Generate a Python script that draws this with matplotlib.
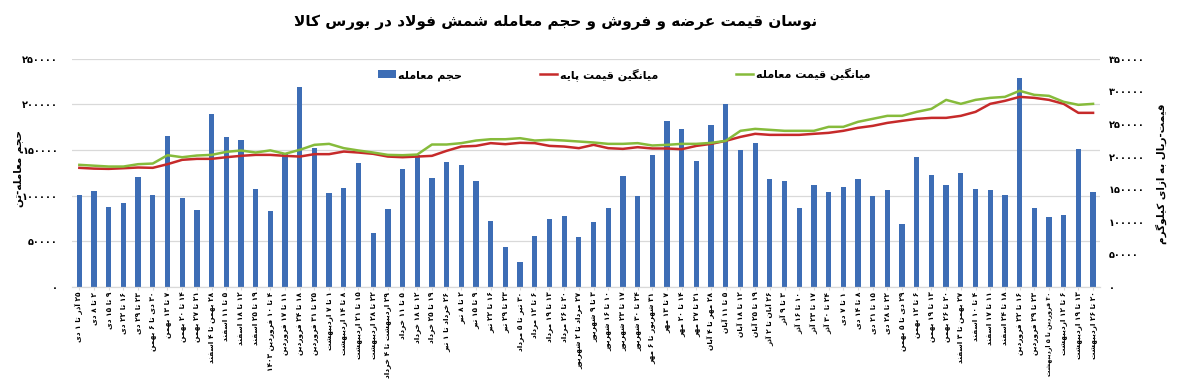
import re
import matplotlib
matplotlib.use('Agg')
import matplotlib.pyplot as plt
import numpy as np

# data
labels = ['۲۵ آذر تا ۱ دی', '۲ تا ۸ دی', '۹ تا ۱۵ دی', '۱۶ تا ۲۲ دی', '۲۳ تا ۲۹ دی',
          '۳۰ دی تا ۶ بهمن', '۷ تا ۱۳ بهمن', '۱۴ تا ۲۰ بهمن', '۲۱ تا ۲۷ بهمن',
          '۲۸ بهمن تا ۴ اسفند', '۵ تا ۱۱ اسفند', '۱۲ تا ۱۸ اسفند', '۱۹ تا ۲۵ اسفند',
          '۴ تا ۱۰ فروردین ۱۴۰۳', '۱۱ تا ۱۷ فروردین', '۱۸ تا ۲۴ فروردین', '۲۵ تا ۳۱ فروردین',
          '۱ تا ۷ اردیبهشت', '۸ تا ۱۴ اردیبهشت', '۱۵ تا ۲۱ اردیبهشت', '۲۲ تا ۲۸ اردیبهشت',
          '۲۹ اردیبهشت تا ۴ خرداد', '۵ تا ۱۱ خرداد', '۱۲ تا ۱۸ خرداد', '۱۹ تا ۲۵ خرداد',
          '۲۶ خرداد تا ۱ تیر', '۲ تا ۸ تیر', '۹ تا ۱۵ تیر', '۱۶ تا ۲۲ تیر', '۲۳ تا ۲۹ تیر',
          '۳۰ تیر تا ۵ مرداد', '۶ تا ۱۲ مرداد', '۱۳ تا ۱۹ مرداد', '۲۰ تا ۲۶ مرداد',
          '۲۷ مرداد تا ۲ شهریور', '۳ تا ۹ شهریور', '۱۰ تا ۱۶ شهریور', '۱۷ تا ۲۳ شهریور',
          '۲۴ تا ۳۰ شهریور', '۳۱ شهریور تا ۶ مهر', '۷ تا ۱۳ مهر', '۱۴ تا ۲۰ مهر',
          '۲۱ تا ۲۷ مهر', '۲۸ مهر تا ۴ آبان', '۵ تا ۱۱ آبان', '۱۲ تا ۱۸ آبان', '۱۹ تا ۲۵ آبان',
          '۲۶ آبان تا ۲ آذر', '۳ تا ۹ آذر', '۱۰ تا ۱۶ آذر', '۱۷ تا ۲۳ آذر', '۲۴ تا ۳۰ آذر',
          '۱ تا ۷ دی', '۸ تا ۱۴ دی', '۱۵ تا ۲۱ دی', '۲۲ تا ۲۸ دی', '۲۹ دی تا ۵ بهمن',
          '۶ تا ۱۲ بهمن', '۱۳ تا ۱۹ بهمن', '۲۰ تا ۲۶ بهمن', '۲۷ بهمن تا ۳ اسفند',
          '۴ تا ۱۰ اسفند', '۱۱ تا ۱۷ اسفند', '۱۸ تا ۲۴ اسفند', '۱۶ تا ۲۲ فروردین',
          '۲۳ تا ۲۹ فروردین', '۳۰ فروردین تا ۵ اردیبهشت', '۶ تا ۱۲ اردیبهشت',
          '۱۳ تا ۱۹ اردیبهشت', '۲۰ تا ۲۶ اردیبهشت']

volume = [101000, 105000, 88000, 92000, 120000, 101000, 165000, 97600, 84400, 189000,
          164000, 161000, 107000, 83300, 145400, 218800, 152000, 103200, 108300, 135500,
          59100, 85900, 129600, 144600, 119700, 137000, 133300, 116400, 72000, 43700,
          27200, 56200, 74500, 77500, 54300, 71600, 86600, 121900, 99900, 144300,
          181700, 173600, 138000, 178000, 201000, 150000, 158000, 118000, 116000, 86000,
          112000, 104000, 110000, 118000, 100000, 106000, 69000, 142000, 123000, 112000,
          125000, 107000, 106000, 101000, 229000, 87000, 77000, 79000, 151000, 104000]

base_price = [182700, 181500, 181100, 182100, 183200, 182700, 188300, 195000, 196500, 196500,
              199000, 201100, 202600, 202600, 201100, 200000, 203700, 203700, 207700, 206200,
              204200, 200000, 199000, 200000, 201100, 208800, 215400, 216400, 220600, 219000,
              221100, 220600, 216400, 215400, 212900, 218000, 212900, 211800, 214400, 212400,
              212400, 211300, 216400, 219500, 224100, 230200, 234900, 233300, 233300, 233300,
              234900, 236400, 239500, 244100, 247100, 251700, 254800, 257900, 259400, 259400,
              262500, 268600, 280900, 285500, 291600, 290100, 287000, 280900, 267100, 267100]

deal_price = [187300, 186000, 184700, 184700, 188300, 189300, 202100, 199000, 201600, 202600,
              207200, 209300, 206200, 209500, 204200, 210300, 218000, 219500, 212900, 209300,
              206200, 202600, 202100, 203100, 218500, 218500, 220600, 224600, 226600, 226600,
              228200, 224600, 225700, 224600, 223100, 221600, 219500, 219500, 220600, 217000,
              218000, 219500, 219500, 221000, 224100, 239500, 242500, 241000, 239500, 239500,
              239500, 245600, 245600, 253300, 257900, 262500, 262500, 268600, 273200, 287000,
              280900, 287000, 290100, 291600, 300900, 294700, 293200, 284000, 279400, 280900]

title = 'نوسان قیمت عرضه و فروش و حجم معامله شمش فولاد در بورس کالا'
names = ['حجم معامله', 'میانگین قیمت پایه', 'میانگین قیمت معامله']
ylabel_left = 'حجم معامله-تن'
ylabel_right = 'قیمت-ریال به ازای کیلوگرم'

# --- simple persian shaping (matplotlib has no bidi / shaping) ---
# isolated, final, initial, medial
FORMS = {
    'ا': ('\uFE8D', '\uFE8E', None, None), 'آ': ('\uFE81', '\uFE82', None, None),
    'ب': ('\uFE8F', '\uFE90', '\uFE91', '\uFE92'), 'پ': ('\uFB56', '\uFB57', '\uFB58', '\uFB59'),
    'ت': ('\uFE95', '\uFE96', '\uFE97', '\uFE98'), 'ث': ('\uFE99', '\uFE9A', '\uFE9B', '\uFE9C'),
    'ج': ('\uFE9D', '\uFE9E', '\uFE9F', '\uFEA0'), 'چ': ('\uFB7A', '\uFB7B', '\uFB7C', '\uFB7D'),
    'ح': ('\uFEA1', '\uFEA2', '\uFEA3', '\uFEA4'), 'خ': ('\uFEA5', '\uFEA6', '\uFEA7', '\uFEA8'),
    'د': ('\uFEA9', '\uFEAA', None, None), 'ذ': ('\uFEAB', '\uFEAC', None, None),
    'ر': ('\uFEAD', '\uFEAE', None, None), 'ز': ('\uFEAF', '\uFEB0', None, None),
    'ژ': ('\uFB8A', '\uFB8B', None, None),
    'س': ('\uFEB1', '\uFEB2', '\uFEB3', '\uFEB4'), 'ش': ('\uFEB5', '\uFEB6', '\uFEB7', '\uFEB8'),
    'ص': ('\uFEB9', '\uFEBA', '\uFEBB', '\uFEBC'), 'ض': ('\uFEBD', '\uFEBE', '\uFEBF', '\uFEC0'),
    'ط': ('\uFEC1', '\uFEC2', '\uFEC3', '\uFEC4'), 'ظ': ('\uFEC5', '\uFEC6', '\uFEC7', '\uFEC8'),
    'ع': ('\uFEC9', '\uFECA', '\uFECB', '\uFECC'), 'غ': ('\uFECD', '\uFECE', '\uFECF', '\uFED0'),
    'ف': ('\uFED1', '\uFED2', '\uFED3', '\uFED4'), 'ق': ('\uFED5', '\uFED6', '\uFED7', '\uFED8'),
    'ک': ('\uFB8E', '\uFB8F', '\uFB90', '\uFB91'), 'گ': ('\uFB92', '\uFB93', '\uFB94', '\uFB95'),
    'ل': ('\uFEDD', '\uFEDE', '\uFEDF', '\uFEE0'), 'م': ('\uFEE1', '\uFEE2', '\uFEE3', '\uFEE4'),
    'ن': ('\uFEE5', '\uFEE6', '\uFEE7', '\uFEE8'), 'ه': ('\uFEE9', '\uFEEA', '\uFEEB', '\uFEEC'),
    'و': ('\uFEED', '\uFEEE', None, None),
    'ی': ('\uFBFC', '\uFBFD', '\uFBFE', '\uFBFF'), 'ئ': ('\uFE89', '\uFE8A', '\uFE8B', '\uFE8C'),
}
LAM_ALEF = {'ا': ('\uFEFB', '\uFEFC'), 'آ': ('\uFEF5', '\uFEF6')}


def shape(s):
    out = []
    i = 0
    while i < len(s):
        c = s[i]
        if c not in FORMS:
            out.append(c)
            i += 1
            continue
        prev = s[i - 1] if i > 0 else ''
        join_prev = prev in FORMS and FORMS[prev][2] is not None
        nxt = s[i + 1] if i + 1 < len(s) else ''
        if c == 'ل' and nxt in LAM_ALEF:
            out.append(LAM_ALEF[nxt][1 if join_prev else 0])
            i += 2
            continue
        join_next = FORMS[c][2] is not None and nxt in FORMS
        if join_prev and join_next:
            out.append(FORMS[c][3])
        elif join_prev:
            out.append(FORMS[c][1])
        elif join_next:
            out.append(FORMS[c][2])
        else:
            out.append(FORMS[c][0])
        i += 1
    return ''.join(out)


def fa(s):
    v = shape(s)[::-1]
    return re.sub(r'[0-9\u06F0-\u06F9]+', lambda m: m.group(0)[::-1], v)


def fa_num(v):
    return str(int(v)).translate(str.maketrans('0123456789', '۰۱۲۳۴۵۶۷۸۹'))


plt.rcParams['font.family'] = ['DejaVu Sans']

fig = plt.figure(figsize=(12, 3.82), dpi=100)
ax = fig.add_axes([0.06, 0.249, 0.857, 0.597])
ax2 = ax.twinx()

x = np.arange(len(labels))
b = ax.bar(x, volume, width=0.36, color='#3d6db5', zorder=2, label=fa(names[0]))
l1, = ax2.plot(x, base_price, color='#c62a2a', lw=1.8, label=fa(names[1]))
l2, = ax2.plot(x, deal_price, color='#86bb3b', lw=1.8, label=fa(names[2]))

ax.set_xlim(-0.5, len(labels) - 0.5)
ax.set_ylim(0, 250000)
ax2.set_ylim(0, 350000)
ax.set_yticks(np.arange(0, 250001, 50000))
ax2.set_yticks(np.arange(0, 350001, 50000))
ax.set_yticklabels([fa_num(v) for v in ax.get_yticks()], fontsize=7, fontweight='bold')
ax2.set_yticklabels([fa_num(v) for v in ax2.get_yticks()], fontsize=7, fontweight='bold')
ax.set_xticks(x)
ax.set_xticklabels([fa(t) for t in labels], rotation=90, fontsize=5.3, fontweight='bold')
# the very long week label gets a smaller font so it stays inside the figure
for t in ax.get_xticklabels():
    if len(t.get_text()) > 22:
        t.set_fontsize(4.6)

ax.grid(axis='y', color='#d9d9d9', lw=0.9, zorder=0)
ax.set_axisbelow(True)
for a in (ax, ax2):
    for sp in ('top', 'left', 'right'):
        a.spines[sp].set_visible(False)
    a.spines['bottom'].set_color('#d9d9d9')
ax.tick_params(axis='y', length=0, pad=10)
ax2.tick_params(axis='y', length=0, pad=6)
ax.tick_params(axis='x', length=2, color='#d9d9d9', pad=1.5)

fig.text(0.463, 0.942, fa(title), ha='center', va='center', fontsize=11, fontweight='bold')
fig.text(0.016, 0.56, fa(ylabel_left), rotation=90, ha='center', va='center',
         fontsize=7.5, fontweight='bold')
fig.text(0.968, 0.545, fa(ylabel_right), rotation=90, ha='center', va='center',
         fontsize=7.5, fontweight='bold')

fig.legend(handles=[b, l1, l2], loc='center', bbox_to_anchor=(0.52, 0.805), ncol=3,
           frameon=False, columnspacing=7, handlelength=1.6, handletextpad=0.2,
           prop={'size': 8, 'weight': 'bold'})

fig.savefig('out.png', dpi=100)
